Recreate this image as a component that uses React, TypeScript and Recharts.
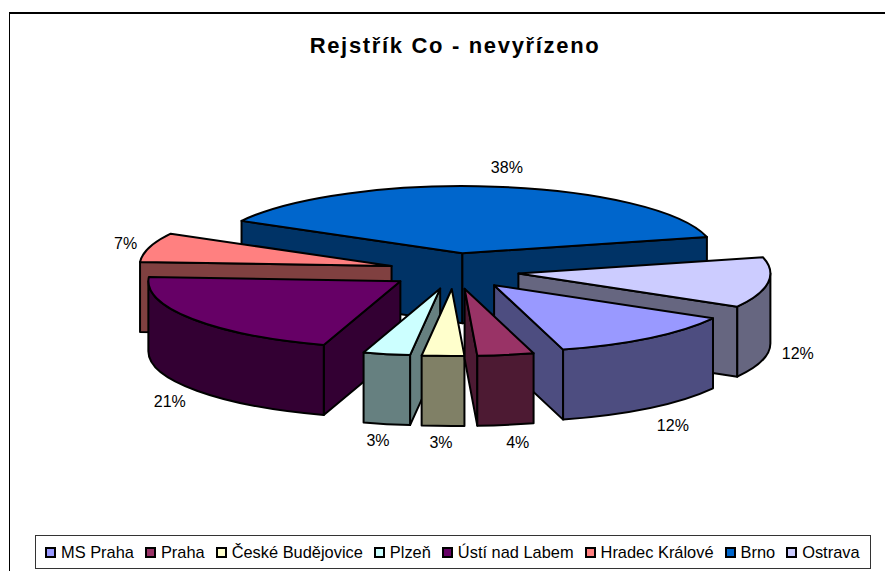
import React from 'react';
import { PieChart, Pie, Legend } from 'recharts';

const categories = ['MS Praha', 'Praha', 'České Budějovice', 'Plzeň', 'Ústí nad Labem', 'Hradec Králové', 'Brno', 'Ostrava'];
const values = [12.3, 3.6, 2.7, 3, 21, 7, 38, 12.1];
const topColors = ['#9999FF', '#993366', '#FFFFCC', '#CCFFFF', '#660066', '#FF8080', '#0066CC', '#CCCCFF'];
const sideColors = ['#4D4D80', '#4D1A33', '#808066', '#668080', '#330033', '#804040', '#003366', '#666680'];
// painter's order, back slices first
const drawOrder = ['Brno', 'Hradec Králové', 'Ostrava', 'Ústí nad Labem', 'MS Praha', 'Plzeň', 'České Budějovice', 'Praha'];

const tableData = categories.map((name, i) => ({ name, value: values[i] }));

const FONT = '"Liberation Sans", Arial, sans-serif';
const RADIUS = 252;
const SQUASH = 67 / RADIUS;
const DEPTH = 70;
const EXPLODE_X = 65;
const EXPLODE_Y = 18;
const STROKE = 2;
// small label corrections, same order as categories
const labelNudgeX = [2, 3.5, -5, -6.6, -3.5, -1, 4.4, -2];
const labelNudgeY = [3, 0, -1, -1, 2, 1, -1, -2];

const rad = (d: number) => (d * Math.PI) / 180;

// one exploded slice, tilted and extruded; angles come from the Pie layout
const sliceShape = (only: string) => (props: any) => {
  const name = props.name ?? props.payload?.name;
  if (name !== only) return <g />;
  const { cx, cy, outerRadius: r, startAngle, endAngle } = props;
  const idx = categories.indexOf(name);
  const top = topColors[idx];
  const side = sideColors[idx];

  // clockwise degrees from 12 o'clock
  const th0 = ((90 - startAngle) % 360 + 360) % 360;
  const th1 = th0 + Math.abs(endAngle - startAngle);
  const mid = (th0 + th1) / 2;
  const tipX = cx + EXPLODE_X * Math.sin(rad(mid));
  const tipY = cy - EXPLODE_Y * Math.cos(rad(mid));
  const rx = r;
  const ry = r * SQUASH;
  const pt = (t: number) => [tipX + rx * Math.sin(rad(t)), tipY - ry * Math.cos(rad(t))];
  const [sx, sy] = pt(th0);
  const [ex, ey] = pt(th1);

  const wall = (x: number, y: number) =>
    `M${tipX},${tipY} L${x},${y} L${x},${y + DEPTH} L${tipX},${tipY + DEPTH} Z`;

  // rim wall only on the part of the arc that faces the viewer
  const rimFrom = Math.max(th0, 90);
  const rimTo = Math.min(th1, 270);
  let rim = null;
  if (rimTo > rimFrom) {
    const [ax, ay] = pt(rimFrom);
    const [bx, by] = pt(rimTo);
    rim = `M${ax},${ay} A${rx},${ry} 0 0 1 ${bx},${by} L${bx},${by + DEPTH} A${rx},${ry} 0 0 0 ${ax},${ay + DEPTH} Z`;
  }

  const large = th1 - th0 > 180 ? 1 : 0;
  const [mx, my] = pt(mid);
  const labelX = mx + 28 * Math.sin(rad(mid)) + 4 + labelNudgeX[idx];
  const labelY = my + (Math.cos(rad(mid)) < 0 ? DEPTH : 0) - 18 * Math.cos(rad(mid)) + labelNudgeY[idx];
  const common = { stroke: '#000', strokeWidth: STROKE, strokeLinejoin: 'round' as const };

  return (
    <g>
      {Math.sin(rad(th0)) < 0 && <path d={wall(sx, sy)} fill={side} {...common} />}
      {Math.sin(rad(th1)) > 0 && <path d={wall(ex, ey)} fill={side} {...common} />}
      {rim && <path d={rim} fill={side} {...common} />}
      <path d={`M${tipX},${tipY} L${sx},${sy} A${rx},${ry} 0 ${large} 1 ${ex},${ey} Z`} fill={top} {...common} />
      <text x={labelX} y={labelY} textAnchor="middle" dominantBaseline="central" fontFamily={FONT} fontSize={16} fill="#000">
        {`${Math.round(values[idx])}%`}
      </text>
    </g>
  );
};

const LegendBox = () => (
  <div
    style={{
      width: 836, height: 34, boxSizing: 'border-box',
      border: '1px solid #333', background: '#fff', display: 'flex', alignItems: 'center',
      paddingLeft: 9, fontFamily: FONT, fontSize: 16.4, color: '#000', whiteSpace: 'nowrap',
    }}
  >
    {categories.map((name, i) => (
      <span key={name} style={{ display: 'flex', alignItems: 'center', marginRight: 11 }}>
        <span style={{ width: 7, height: 7, border: '2px solid #000', background: topColors[i], marginRight: 5, display: 'inline-block' }} />
        {name}
      </span>
    ))}
  </div>
);

export default function App() {
  return (
    <div style={{ position: 'absolute', left: 0, top: 0, width: 885, height: 571, background: '#fff', overflow: 'hidden' }}>
      {/* only the left and top edges of the frame are inside the screenshot */}
      <div style={{ position: 'absolute', left: 9, top: 12, width: 900, height: 600, boxSizing: 'border-box', borderLeft: '1.5px solid #000', borderTop: '2px solid #000' }} />
      <div style={{ position: 'absolute', left: 0, top: 33, width: 910, textAlign: 'center', fontFamily: FONT, fontWeight: 700, fontSize: 22, letterSpacing: 1.67, whiteSpace: 'nowrap' }}>
        Rejstřík Co - nevyřízeno
      </div>
      <PieChart width={885} height={571} style={{ position: 'absolute', left: 0, top: 0 }} margin={{ top: 0, right: 0, bottom: 0, left: 0 }}>
        {drawOrder.map((name) => (
          <Pie
            key={name}
            data={tableData}
            dataKey="value"
            nameKey="name"
            cx={454}
            cy={271}
            outerRadius={RADIUS}
            startAngle={-29.7}
            endAngle={-389.7}
            stroke="none"
            isAnimationActive={false}
            shape={sliceShape(name)}
          />
        ))}
        <Legend content={<LegendBox />} wrapperStyle={{ left: 35, top: 535, bottom: 'auto', width: 836, height: 34 }} />
      </PieChart>
    </div>
  );
}
